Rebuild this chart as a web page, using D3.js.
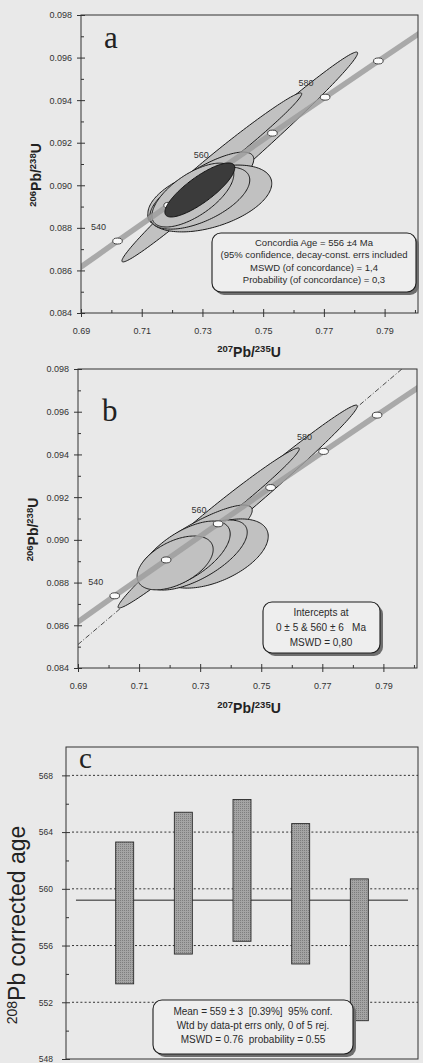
<!DOCTYPE html>
<html>
<head>
<meta charset="utf-8">
<script src="https://cdn.jsdelivr.net/npm/d3@7"></script>
<style>
  body { margin: 0; background: #e9e9e9; }
  svg { display: block; font-family: "Liberation Sans", Arial, sans-serif; }
</style>
</head>
<body>
<div id="chart"></div>
<script>

// concordia curve, age ticks in Ma
var concAges = [530, 540, 550, 560, 570, 580, 590, 600];
var concX = [0.68535, 0.70203, 0.71887, 0.73588, 0.75306, 0.77041, 0.78794, 0.80563];
var concY = [0.08569, 0.08738, 0.08906, 0.09075, 0.09245, 0.09414, 0.09584, 0.09754];
var markerAges = [540, 550, 560, 570, 580, 590];
var labelAges = [540, 560, 580];

var xTicks = [0.69, 0.71, 0.73, 0.75, 0.77, 0.79];
var xMinor = [0.70, 0.72, 0.74, 0.76, 0.78, 0.80];
var yTicks = [0.084, 0.086, 0.088, 0.090, 0.092, 0.094, 0.096, 0.098];
var yMinor = [0.085, 0.087, 0.089, 0.091, 0.093, 0.095, 0.097];

// panel a error ellipses: centre (207/235, 206/238), half extent x, half extent y, rho
var aEllX   = [0.74230, 0.73770, 0.72947, 0.73243, 0.72914, 0.72684];
var aEllY   = [0.09133, 0.09147, 0.08987, 0.08938, 0.08940, 0.08954];
var aEllDx  = [0.03882, 0.02500, 0.01743, 0.02040, 0.01645, 0.01349];
var aEllDy  = [0.00493, 0.00287, 0.00169, 0.00157, 0.00146, 0.00150];
var aEllRho = [0.990, 0.985, 0.80, 0.45, 0.58, 0.65];
// concordia age ellipse (556 Ma)
var ageEll = [0.72914, 0.08978, 0.01151, 0.00127, 0.82];

// panel b error ellipses
var bEllX   = [0.74230, 0.73754, 0.72869, 0.73459, 0.72869, 0.72508, 0.72180];
var bEllY   = [0.09156, 0.09144, 0.08999, 0.08936, 0.08929, 0.08929, 0.08892];
var bEllDx  = [0.03918, 0.02492, 0.01836, 0.01770, 0.01672, 0.01475, 0.01246];
var bEllDy  = [0.00475, 0.00286, 0.00164, 0.00162, 0.00164, 0.00159, 0.00126];
var bEllRho = [0.990, 0.985, 0.85, 0.50, 0.65, 0.62, 0.50];
// discordia (dash-dot) end points
var discX = [0.69, 0.801];
var discY = [0.0851, 0.0986];

// panel c: 208Pb corrected ages, error bar limits (Ma)
var spotNo = [1, 2, 3, 4, 5];
var ageLow  = [553.3, 555.4, 556.3, 554.7, 550.7];
var ageHigh = [563.3, 565.4, 566.3, 564.6, 560.7];
var meanAge = 559.2;
var cTicks = [548, 552, 556, 560, 564, 568];
var cMinor = [550, 554, 558, 562, 566];
var cGrid = [552, 556, 560, 564, 568];

var W = 423, H = 1063;
var svg = d3.select("#chart").append("svg")
    .attr("width", W)
    .attr("height", H);

var defs = svg.append("defs");

// stippled fill of the age bars
var pat = defs.append("pattern")
    .attr("id", "stipple")
    .attr("width", 2).attr("height", 2)
    .attr("patternUnits", "userSpaceOnUse");
pat.append("rect").attr("width", 2).attr("height", 2).attr("fill", "#a4a4a4");
pat.append("rect").attr("width", 1).attr("height", 1).attr("fill", "#7e7e7e");

function ellipsePts(cx, cy, dx, dy, rho) {
    var pts = [], s = Math.sqrt(1 - rho * rho);
    for (var i = 0; i < 160; i++) {
        var t = i / 160 * 2 * Math.PI;
        pts.push([cx + dx * Math.cos(t), cy + dy * (rho * Math.cos(t) + s * Math.sin(t))]);
    }
    return pts;
}

function legendBox(x0, y0, w, h, lines, ys, cx, fs) {
    var g = svg.append("g");
    g.append("rect")
        .attr("x", x0 + 3).attr("y", y0 + 3)
        .attr("width", w).attr("height", h)
        .attr("rx", 9)
        .attr("fill", "#6e6e6e");
    g.append("rect")
        .attr("x", x0).attr("y", y0)
        .attr("width", w).attr("height", h)
        .attr("rx", 9)
        .attr("fill", "#eeeeee")
        .attr("stroke", "#1e1e1e")
        .attr("stroke-width", 1.1);
    g.selectAll("text.lg")
        .data(lines)
        .enter().append("text")
            .attr("x", cx)
            .attr("y", (d, i) => ys[i])
            .attr("text-anchor", "middle")
            .attr("font-size", fs)
            .attr("fill", "#2a2a2a")
            .attr("xml:space", "preserve")
            .text(d => d);
}

function ratioTitle(sel, m1, m2, fs, sup) {
    sel.append("tspan").attr("font-size", sup).attr("baseline-shift", "super").text(m1);
    sel.append("tspan").attr("font-size", fs).text("Pb/");
    sel.append("tspan").attr("font-size", sup).attr("baseline-shift", "super").text(m2);
    sel.append("tspan").attr("font-size", fs).text("U");
}

function concordiaPanel(o) {
    var x = d3.scaleLinear().domain([0.69, 0.801]).range([o.left, o.right]);
    var y = d3.scaleLinear().domain([0.084, 0.098]).range([o.bottom, o.top]);

    defs.append("clipPath").attr("id", "clip-" + o.id)
        .append("rect")
        .attr("x", o.left).attr("y", o.top)
        .attr("width", o.right - o.left).attr("height", o.bottom - o.top);

    var g = svg.append("g");
    var plot = g.append("g").attr("clip-path", "url(#clip-" + o.id + ")");

    if (o.disc) {
        plot.append("line")
            .attr("x1", x(discX[0])).attr("y1", y(discY[0]))
            .attr("x2", x(discX[1])).attr("y2", y(discY[1]))
            .attr("stroke", "#222")
            .attr("stroke-width", 0.8)
            .attr("stroke-dasharray", "5,2,1,2");
    }

    var line = d3.line().x(d => x(d[0])).y(d => y(d[1])).curve(d3.curveLinearClosed);

    var ells = o.ex.map((v, i) => ellipsePts(v, o.ey[i], o.edx[i], o.edy[i], o.erho[i]));
    plot.selectAll("path.ell")
        .data(ells)
        .enter().append("path")
            .attr("class", "ell")
            .attr("d", line)
            .attr("fill", "#c1c1c1")
            .attr("stroke", "#1a1a1a")
            .attr("stroke-width", 1);

    // concordia band
    var conc = concAges.map((a, i) => [concX[i], concY[i]]);
    plot.append("path")
        .attr("d", d3.line().x(d => x(d[0])).y(d => y(d[1])).curve(d3.curveCatmullRom)(conc))
        .attr("fill", "none")
        .attr("stroke", "#9d9d9d")
        .attr("stroke-opacity", 0.85)
        .attr("stroke-width", 5.5);

    plot.selectAll("text.age")
        .data(labelAges)
        .enter().append("text")
            .attr("x", a => x(concX[concAges.indexOf(a)]) - 19)
            .attr("y", a => y(concY[concAges.indexOf(a)]) - 11)
            .attr("text-anchor", "middle")
            .attr("font-size", 9)
            .attr("fill", "#333")
            .text(a => a);

    plot.selectAll("ellipse.mk")
        .data(markerAges)
        .enter().append("ellipse")
            .attr("cx", a => x(concX[concAges.indexOf(a)]))
            .attr("cy", a => y(concY[concAges.indexOf(a)]))
            .attr("rx", 4.8)
            .attr("ry", 3)
            .attr("fill", "#fbfbfb")
            .attr("stroke", "#333")
            .attr("stroke-width", 0.9);

    if (o.age) {
        plot.append("path")
            .attr("d", line(ellipsePts.apply(null, o.age)))
            .attr("fill", "#3b3b3b")
            .attr("stroke", "#111")
            .attr("stroke-width", 1);
    }

    // frame
    g.append("rect")
        .attr("x", o.left).attr("y", o.top)
        .attr("width", o.right - o.left).attr("height", o.bottom - o.top)
        .attr("fill", "none")
        .attr("stroke", "#333")
        .attr("stroke-width", 1);

    var gy = g.append("g")
        .attr("transform", `translate(${o.left},0)`)
        .call(d3.axisLeft(y).tickValues(yTicks).tickSize(4).tickPadding(5).tickFormat(d3.format(".3f")));
    gy.append("g").call(d3.axisLeft(y).tickValues(yMinor).tickSize(-3).tickFormat(""));

    var gx = g.append("g")
        .attr("transform", `translate(0,${o.bottom})`)
        .call(d3.axisBottom(x).tickValues(xTicks).tickSize(4).tickPadding(11).tickFormat(d3.format(".2f")));
    gx.append("g").call(d3.axisBottom(x).tickValues(xMinor).tickSize(-3).tickFormat(""));

    [gx, gy].forEach(a => {
        a.attr("font-size", 9).attr("font-family", null).attr("color", "#333");
        a.selectAll(".domain").remove();
    });
    gy.selectAll(".tick line").filter(function() { return +d3.select(this).attr("x2") < 0; }).attr("x1", 4);
    gx.selectAll(".tick line").filter(function() { return +d3.select(this).attr("y2") > 0; }).attr("y1", -4);

    ratioTitle(g.append("text")
        .attr("transform", `translate(${o.yTitleX},${(o.top + o.bottom) / 2 + 11}) rotate(-90)`)
        .attr("text-anchor", "middle")
        .attr("font-weight", "bold")
        .attr("fill", "#222"), "206", "238", 14, 9.5);

    ratioTitle(g.append("text")
        .attr("x", 249)
        .attr("y", o.xTitleY)
        .attr("text-anchor", "middle")
        .attr("font-weight", "bold")
        .attr("fill", "#222"), "207", "235", 14, 9.5);

    g.append("text")
        .attr("x", o.letterX).attr("y", o.letterY)
        .attr("font-family", "'Liberation Serif', 'DejaVu Serif', serif")
        .attr("font-size", 31)
        .attr("fill", "#222")
        .text(o.letter);
}

concordiaPanel({
    id: "a", left: 81, right: 418, top: 15, bottom: 313,
    ex: aEllX, ey: aEllY, edx: aEllDx, edy: aEllDy, erho: aEllRho,
    age: ageEll, disc: false,
    yTitleX: 41, xTitleY: 357, letter: "a", letterX: 104, letterY: 48
});
legendBox(212, 233, 204, 59,
    ["Concordia Age = 556 \u00b14 Ma",
     "(95% confidence, decay-const. errs included",
     "MSWD (of concordance) = 1,4",
     "Probability (of concordance) = 0,3"],
    [246, 258, 270.5, 283], 314, 9.5);

concordiaPanel({
    id: "b", left: 78, right: 417, top: 369, bottom: 668,
    ex: bEllX, ey: bEllY, edx: bEllDx, edy: bEllDy, erho: bEllRho,
    age: null, disc: true,
    yTitleX: 38, xTitleY: 713, letter: "b", letterX: 102, letterY: 421
});
legendBox(263, 602, 117, 51,
    ["Intercepts at",
     "0 \u00b1 5 & 560 \u00b1 6   Ma",
     "MSWD = 0,80"],
    [615.5, 630.5, 645.5], 321, 10);

// ---- panel c : weighted mean ----
(function() {
    var left = 66, right = 418, top = 747, bottom = 1059;
    var x = d3.scaleLinear().domain([0, 6]).range([left, right]);
    var y = d3.scaleLinear().domain([548, 570]).range([bottom, top]);
    var g = svg.append("g");

    g.selectAll("line.grid")
        .data(cGrid)
        .enter().append("line")
            .attr("x1", left + 6).attr("x2", right)
            .attr("y1", d => y(d)).attr("y2", d => y(d))
            .attr("stroke", "#333")
            .attr("stroke-width", 1)
            .attr("stroke-dasharray", "2,2.2");

    g.append("line")
        .attr("x1", x(0.17)).attr("x2", x(5.83))
        .attr("y1", y(meanAge)).attr("y2", y(meanAge))
        .attr("stroke", "#222")
        .attr("stroke-width", 1);

    g.selectAll("rect.bar")
        .data(spotNo)
        .enter().append("rect")
            .attr("x", (d) => x(d) - 9)
            .attr("width", 18)
            .attr("y", (d, i) => y(ageHigh[i]))
            .attr("height", (d, i) => y(ageLow[i]) - y(ageHigh[i]))
            .attr("fill", "url(#stipple)")
            .attr("stroke", "#2a2a2a")
            .attr("stroke-width", 0.9);

    g.append("rect")
        .attr("x", left).attr("y", top)
        .attr("width", right - left).attr("height", bottom - top)
        .attr("fill", "none")
        .attr("stroke", "#333")
        .attr("stroke-width", 1);

    var gy = g.append("g")
        .attr("transform", `translate(${left},0)`)
        .call(d3.axisLeft(y).tickValues(cTicks).tickSize(4).tickPadding(9).tickFormat(d3.format("d")));
    gy.append("g").call(d3.axisLeft(y).tickValues(cMinor).tickSize(-3).tickFormat(""));
    gy.attr("font-size", 8.5).attr("font-family", null).attr("color", "#333");
    gy.selectAll(".domain").remove();
    gy.selectAll(".tick line").filter(function() { return +d3.select(this).attr("x2") < 0; }).attr("x1", 4);

    var yl = g.append("text")
        .attr("transform", "translate(25,925) rotate(-90)")
        .attr("text-anchor", "middle")
        .attr("fill", "#222");
    yl.append("tspan").attr("font-size", 14).attr("baseline-shift", "super").text("208");
    yl.append("tspan").attr("font-size", 23).text("Pb corrected age");

    g.append("text")
        .attr("x", 79).attr("y", 768)
        .attr("font-family", "'Liberation Serif', 'DejaVu Serif', serif")
        .attr("font-size", 29)
        .attr("fill", "#222")
        .text("c");
})();

legendBox(153, 1000, 200, 54,
    ["Mean = 559 \u00b1 3  [0.39%]  95% conf.",
     "Wtd by data-pt errs only, 0 of 5 rej.",
     "MSWD = 0.76  probability = 0.55"],
    [1014.5, 1029, 1043], 253, 10);

</script>
</body>
</html>
